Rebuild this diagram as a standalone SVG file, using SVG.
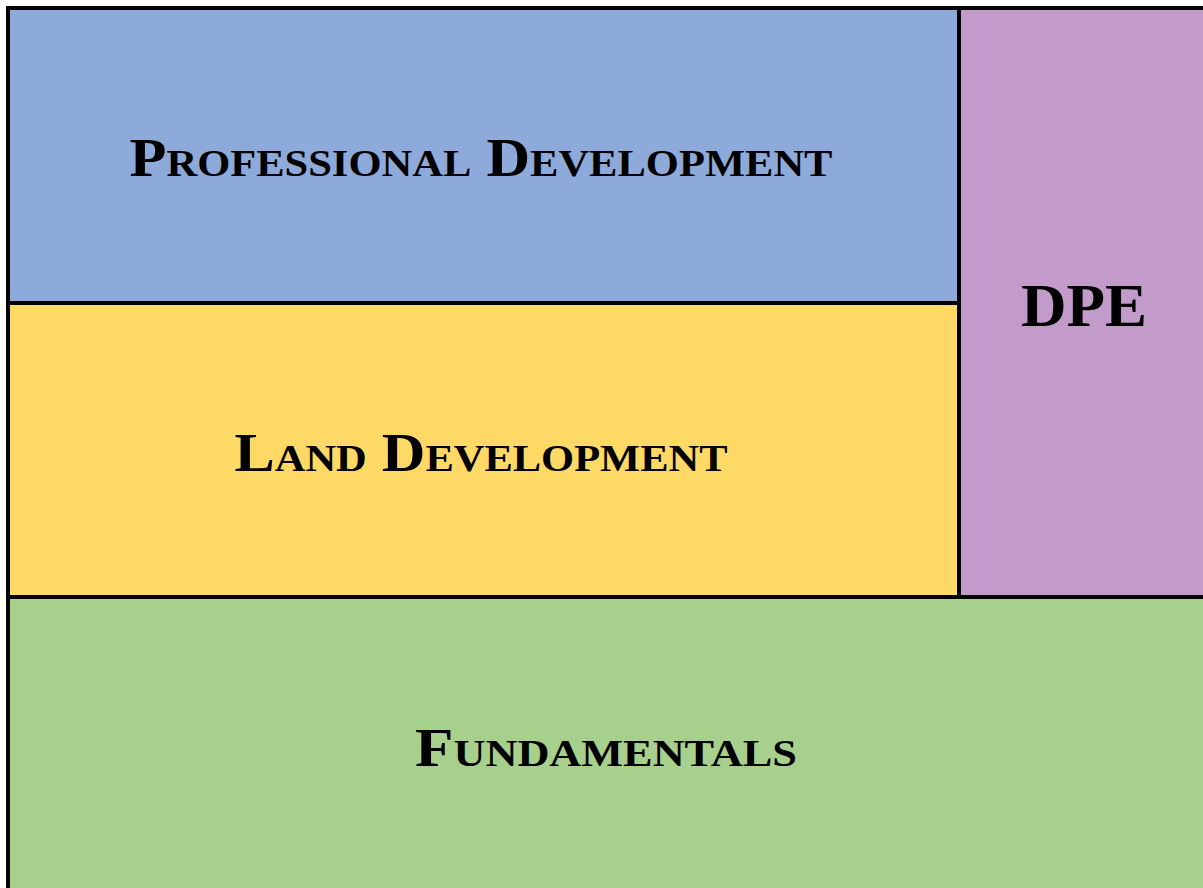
<svg xmlns="http://www.w3.org/2000/svg" width="1203" height="888" viewBox="0 0 1203 888">
<style>
.box{stroke:#000;stroke-width:4}
.t{font-family:"Liberation Serif","DejaVu Serif",serif;font-weight:bold;font-variant:small-caps;font-size:54px;fill:#000;text-anchor:middle}
</style>
<rect width="1203" height="888" fill="#fff"/>
<g id="fundamentals">
<rect class="box" x="8" y="597" width="1205" height="300" fill="#A8D08D"/>
<text class="t" x="606" y="766" textLength="382" lengthAdjust="spacingAndGlyphs">Fundamentals</text>
</g>
<g id="dpe">
<rect class="box" x="959" y="8" width="254" height="589" fill="#C39BCB"/>
<text class="t" x="1084" y="326" style="font-size:62px" textLength="126" lengthAdjust="spacingAndGlyphs">DPE</text>
</g>
<g id="land">
<rect class="box" x="8" y="303" width="951" height="294" fill="#FFD966"/>
<text class="t" x="481" y="471" textLength="493" lengthAdjust="spacingAndGlyphs">Land Development</text>
</g>
<g id="professional">
<rect class="box" x="8" y="8" width="951" height="295" fill="#8EAADB"/>
<text class="t" x="481" y="176" textLength="703" lengthAdjust="spacingAndGlyphs">Professional Development</text>
</g>
<g id="connectors"></g>
</svg>
